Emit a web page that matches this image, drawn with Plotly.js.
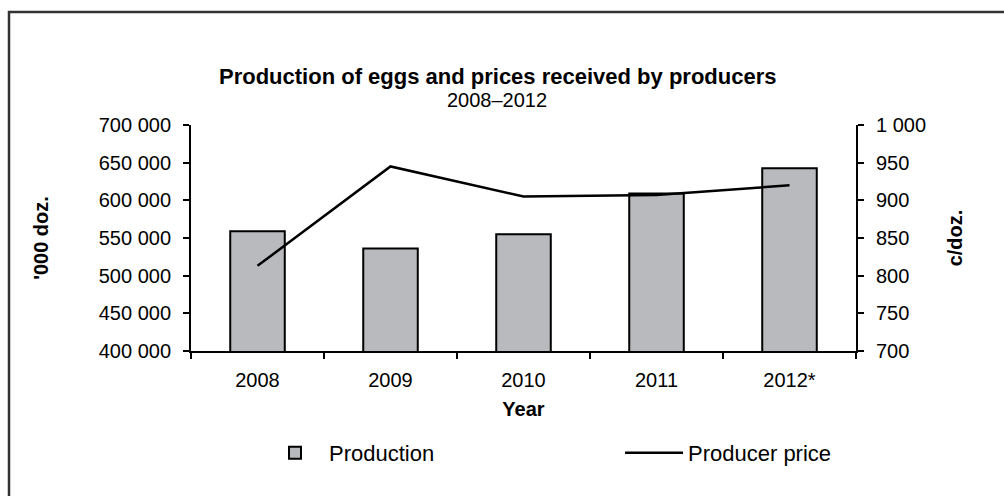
<!DOCTYPE html>
<html>
<head>
<meta charset="utf-8">
<script src="https://cdn.plot.ly/plotly-3.0.1.min.js"></script>
<style>
html,body{margin:0;padding:0;background:#fff;}
#chart{width:1004px;height:496px;}
</style>
</head>
<body>
<div id="chart"></div>
<script>
var years = ['2008', '2009', '2010', '2011', '2012*'];
var production = [559000, 536000, 555000, 609000, 642500];
var producerPrice = [813, 945, 905, 907, 920];

var FONT = 'Liberation Sans, Arial, sans-serif';

var traces = [
  {
    type: 'bar',
    name: 'Production',
    x: years,
    y: production,
    width: 0.41,
    marker: {color: '#b9babd', line: {color: '#000', width: 2}},
    yaxis: 'y',
    legend: 'legend',
    hoverinfo: 'x+y'
  },
  {
    type: 'scatter',
    mode: 'lines',
    name: 'Producer price',
    x: years,
    y: producerPrice,
    line: {color: '#000', width: 2.5},
    yaxis: 'y2',
    legend: 'legend2'
  }
];

var L = 191, R = 856, T = 125, B = 351, W = 1004, H = 496;
var pw = R - L, ph = B - T;
function px(x) { return (x - L) / pw; }
function py(y) { return (B - y) / ph; }

var legendBase = {
  orientation: 'h',
  xref: 'container', yref: 'container',
  xanchor: 'left', yanchor: 'middle',
  y: 1 - 453 / H,
  font: {size: 22},
  itemwidth: 58,
  bgcolor: 'rgba(0,0,0,0)'
};

var layout = {
  width: W, height: H,
  margin: {l: L, r: W - R, t: T, b: H - B, pad: 0},
  paper_bgcolor: '#fff',
  plot_bgcolor: '#fff',
  separators: '. ',
  font: {family: FONT, color: '#000', size: 20},
  showlegend: true,
  xaxis: {
    type: 'category',
    showline: true, linecolor: '#000', linewidth: 2,
    ticks: 'outside', tickson: 'boundaries', ticklen: 6, tickwidth: 2, tickcolor: '#000',
    tickfont: {size: 20},
    ticklabelstandoff: 10,
    showgrid: false, zeroline: false,
    title: {text: '<b>Year</b>', font: {size: 20}, standoff: 12},
    automargin: false,
    fixedrange: true
  },
  yaxis: {
    range: [400000, 700000],
    dtick: 50000,
    tickformat: ',d',
    showline: true, linecolor: '#000', linewidth: 2,
    ticks: 'outside', ticklen: 6, tickwidth: 2, tickcolor: '#000',
    tickfont: {size: 20},
    ticklabelstandoff: 8,
    showgrid: false, zeroline: false,
    title: {text: "<b>'000 doz.</b>", font: {size: 20}, standoff: 45},
    automargin: false,
    fixedrange: true
  },
  yaxis2: {
    overlaying: 'y', side: 'right',
    range: [700, 1000],
    dtick: 50,
    tickformat: ',d',
    showline: true, linecolor: '#000', linewidth: 2,
    ticks: 'outside', ticklen: 6, tickwidth: 2, tickcolor: '#000',
    tickfont: {size: 20},
    ticklabelstandoff: 8,
    showgrid: false, zeroline: false,
    title: {text: '<b>c/doz.</b>', font: {size: 20}, standoff: 23},
    automargin: false,
    fixedrange: true
  },
  legend: Object.assign({}, legendBase, {x: 261 / W}),
  legend2: Object.assign({}, legendBase, {x: 620 / W}),
  annotations: [
    {
      text: '<b>Production of eggs and prices received by producers</b>',
      xref: 'paper', yref: 'paper', x: px(497), y: py(76),
      xanchor: 'center', yanchor: 'middle', showarrow: false,
      font: {size: 22}
    },
    {
      text: '2008–2012',
      xref: 'paper', yref: 'paper', x: px(497), y: py(100),
      xanchor: 'center', yanchor: 'middle', showarrow: false,
      font: {size: 20}
    }
  ],
  shapes: [
    {
      type: 'path', xref: 'paper', yref: 'paper',
      path: 'M ' + px(9) + ' ' + py(600) + ' L ' + px(9) + ' ' + py(12) + ' L ' + px(1100) + ' ' + py(12),
      line: {color: '#333', width: 2.5}
    }
  ]
};

Plotly.newPlot('chart', traces, layout, {displayModeBar: false, staticPlot: true});
</script>
</body>
</html>
